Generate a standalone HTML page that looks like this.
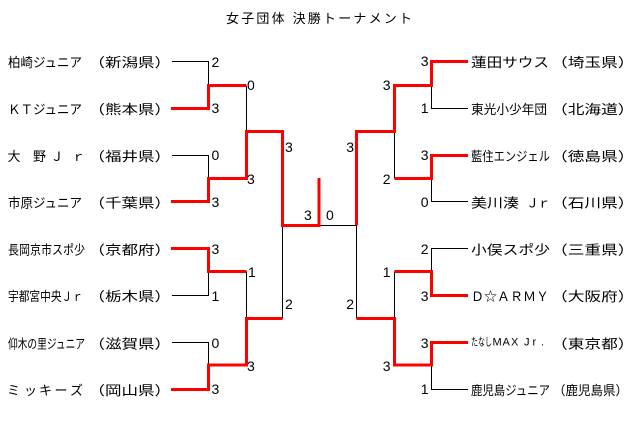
<!DOCTYPE html>
<html><head><meta charset="utf-8">
<style>
html,body{margin:0;padding:0;background:#fff;}
svg{display:block;}
text{font-family:"Liberation Sans","Noto Sans CJK JP",sans-serif;fill:#000;}
.n{font-size:13px;}
.s{font-size:14px;}
</style></head>
<body>
<svg width="640" height="429" viewBox="0 0 640 429" xmlns="http://www.w3.org/2000/svg">
<rect x="0" y="0" width="640" height="429" fill="#fff"/>

<text class="n" x="226" y="23" textLength="186" lengthAdjust="spacing">女子団体 決勝トーナメント</text>

<!-- black lines -->
<g stroke="#000" stroke-width="1" fill="none">
  <polyline points="172,61.5 208.5,61.5 208.5,86"/>
  <polyline points="172,155.5 208.5,155.5 208.5,178.5"/>
  <polyline points="172,295.5 208.5,295.5 208.5,271.5"/>
  <polyline points="172,342.5 208.5,342.5 208.5,365"/>
  <line x1="246.5" y1="86" x2="246.5" y2="131.5"/>
  <line x1="246.5" y1="271.5" x2="246.5" y2="318.5"/>
  <line x1="282.5" y1="225.5" x2="282.5" y2="318.5"/>
  <line x1="319" y1="225.5" x2="356.5" y2="225.5"/>
  <line x1="356.5" y1="225.5" x2="356.5" y2="318.5"/>
  <line x1="394.5" y1="131.5" x2="394.5" y2="178.5"/>
  <line x1="394.5" y1="271.5" x2="394.5" y2="318.5"/>
  <polyline points="468,108.5 431.5,108.5 431.5,85.5"/>
  <polyline points="468,201.5 431.5,201.5 431.5,178.5"/>
  <polyline points="468,248.5 431.5,248.5 431.5,271.5"/>
  <polyline points="468,389.5 431.5,389.5 431.5,365"/>
</g>

<!-- red lines -->
<g stroke="#ff0000" stroke-width="3" fill="none" stroke-linejoin="miter">
  <polyline points="171,108.5 208.5,108.5 208.5,85.5 246.5,85.5"/>
  <polyline points="171,201.5 208.5,201.5 208.5,178.5 246.5,178.5 246.5,131.5 282.5,131.5 282.5,225.5 319,225.5 319,178"/>
  <polyline points="171,248.5 208.5,248.5 208.5,271.5 246.5,271.5"/>
  <polyline points="171,389.5 208.5,389.5 208.5,365 246.5,365 246.5,318.5 282.5,318.5"/>
  <polyline points="468,61.5 431.5,61.5 431.5,85.5 394.5,85.5 394.5,131.5 356.5,131.5 356.5,225.5"/>
  <polyline points="468,155.5 431.5,155.5 431.5,178.5 394.5,178.5"/>
  <polyline points="468,295.5 431.5,295.5 431.5,271.5 394.5,271.5"/>
  <polyline points="468,342.5 431.5,342.5 431.5,365 394.5,365 394.5,318.5 356.5,318.5"/>
</g>

<!-- left names -->
<text class="n" x="8" y="67" textLength="74" lengthAdjust="spacingAndGlyphs">柏崎ジュニア</text>
<text class="n" x="8" y="114" textLength="74" lengthAdjust="spacingAndGlyphs">ＫＴジュニア</text>
<text class="n" x="7.5 33 50.5 72" y="161">大野Ｊｒ</text>
<text class="n" x="8" y="207.5" textLength="74" lengthAdjust="spacingAndGlyphs">市原ジュニア</text>
<text class="n" x="8" y="254.5" textLength="77" lengthAdjust="spacingAndGlyphs">長岡京市スポ少</text>
<text class="n" x="8" y="301" textLength="75" lengthAdjust="spacingAndGlyphs">宇都宮中央Ｊｒ</text>
<text class="n" x="8" y="348.5" textLength="77" lengthAdjust="spacingAndGlyphs">仰木の里ジュニア</text>
<text class="n" x="7 24 39 54.5 70" y="395">ミッキーズ</text>

<!-- left prefectures -->
<text class="n" x="88.5" y="67" textLength="82.5" lengthAdjust="spacingAndGlyphs">（新潟県）</text>
<text class="n" x="88.5" y="114" textLength="82.5" lengthAdjust="spacingAndGlyphs">（熊本県）</text>
<text class="n" x="88.5" y="161" textLength="82.5" lengthAdjust="spacingAndGlyphs">（福井県）</text>
<text class="n" x="88.5" y="207.5" textLength="82.5" lengthAdjust="spacingAndGlyphs">（千葉県）</text>
<text class="n" x="88.5" y="254.5" textLength="82.5" lengthAdjust="spacingAndGlyphs">（京都府）</text>
<text class="n" x="88.5" y="301" textLength="82.5" lengthAdjust="spacingAndGlyphs">（栃木県）</text>
<text class="n" x="88.5" y="348.5" textLength="82.5" lengthAdjust="spacingAndGlyphs">（滋賀県）</text>
<text class="n" x="88.5" y="395" textLength="82.5" lengthAdjust="spacingAndGlyphs">（岡山県）</text>

<!-- right names -->
<text class="n" x="471" y="67" textLength="78" lengthAdjust="spacingAndGlyphs">蓮田サウス</text>
<text class="n" x="471" y="114" textLength="76" lengthAdjust="spacingAndGlyphs">東光小少年団</text>
<text class="n" x="471" y="161" textLength="79" lengthAdjust="spacingAndGlyphs">藍住エンジェル</text>
<text class="n" x="471" y="207.5" textLength="48" lengthAdjust="spacingAndGlyphs">美川湊</text>
<text class="n" x="526 537.5" y="207.5">Ｊｒ</text>
<text class="n" x="471" y="254.5" textLength="79" lengthAdjust="spacingAndGlyphs">小俣スポ少</text>
<text class="n" x="471" y="301" textLength="78" lengthAdjust="spacingAndGlyphs">Ｄ☆ＡＲＭＹ</text>
<text x="471" y="345.5" style="font-size:11px" textLength="21" lengthAdjust="spacingAndGlyphs">たなし</text>
<text x="492.5 502.5 511 518 524 532.5 541" y="345.5" style="font-size:11px">MAX Jr.</text>
<text class="n" x="471" y="395" textLength="79" lengthAdjust="spacingAndGlyphs">鹿児島ジュニア</text>

<!-- right prefectures -->
<text class="n" x="551" y="67" textLength="83.5" lengthAdjust="spacingAndGlyphs">（埼玉県）</text>
<text class="n" x="551" y="114" textLength="83.5" lengthAdjust="spacingAndGlyphs">（北海道）</text>
<text class="n" x="551" y="161" textLength="83.5" lengthAdjust="spacingAndGlyphs">（徳島県）</text>
<text class="n" x="551" y="207.5" textLength="83.5" lengthAdjust="spacingAndGlyphs">（石川県）</text>
<text class="n" x="551" y="254.5" textLength="83.5" lengthAdjust="spacingAndGlyphs">（三重県）</text>
<text class="n" x="551" y="301" textLength="83.5" lengthAdjust="spacingAndGlyphs">（大阪府）</text>
<text class="n" x="551" y="348.5" textLength="83.5" lengthAdjust="spacingAndGlyphs">（東京都）</text>
<text class="n" x="553" y="395" textLength="75" lengthAdjust="spacingAndGlyphs">（鹿児島県）</text>

<!-- scores -->
<g class="s">
<text class="s" x="211.5" y="67">2</text>
<text class="s" x="211.5" y="113">3</text>
<text class="s" x="211.5" y="160">0</text>
<text class="s" x="211.5" y="207">3</text>
<text class="s" x="211.5" y="254">3</text>
<text class="s" x="211.5" y="301">1</text>
<text class="s" x="211.5" y="348">0</text>
<text class="s" x="211.5" y="394">3</text>

<text class="s" x="247" y="90">0</text>
<text class="s" x="247" y="184">3</text>
<text class="s" x="248" y="277">1</text>
<text class="s" x="247" y="371">3</text>

<text class="s" x="285" y="152">3</text>
<text class="s" x="285" y="309">2</text>

<text class="s" x="304" y="220">3</text>
<text class="s" x="326" y="220">0</text>

<text class="s" x="354" y="152" text-anchor="end">3</text>
<text class="s" x="354" y="309" text-anchor="end">2</text>

<text class="s" x="390.5" y="90" text-anchor="end">3</text>
<text class="s" x="390.5" y="184" text-anchor="end">2</text>
<text class="s" x="390.5" y="277" text-anchor="end">1</text>
<text class="s" x="390.5" y="371" text-anchor="end">3</text>

<text class="s" x="428.5" y="66" text-anchor="end">3</text>
<text class="s" x="428.5" y="113" text-anchor="end">1</text>
<text class="s" x="428.5" y="160" text-anchor="end">3</text>
<text class="s" x="428.5" y="207" text-anchor="end">0</text>
<text class="s" x="428.5" y="254" text-anchor="end">2</text>
<text class="s" x="428.5" y="301" text-anchor="end">3</text>
<text class="s" x="428.5" y="348" text-anchor="end">3</text>
<text class="s" x="428.5" y="394" text-anchor="end">1</text>
</g>
</svg>
</body></html>
